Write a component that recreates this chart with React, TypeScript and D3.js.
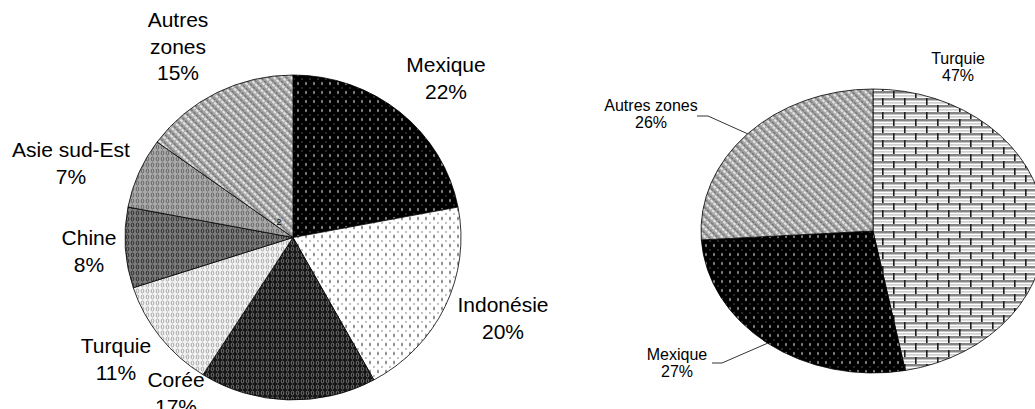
import { useEffect, useRef } from 'react'
import * as d3 from 'd3'

// left pie: répartition (%)
const leftLabels = ['Mexique', 'Indonésie', 'Corée', 'Turquie', 'Chine', 'Asie sud-Est', 'Autres zones']
const leftValues = [22, 20, 17, 11, 8, 7, 15]
// right pie
const rightLabels = ['Turquie', 'Mexique', 'Autres zones']
const rightValues = [47, 27, 26]

const W = 1035
const H = 409

const LEFT = { cx: 293, cy: 237.5, rx: 168, ry: 162.5 }
const RIGHT = { cx: 873, cy: 231, rx: 172, ry: 142 }

const leftFills = ['pBlackDots', 'pWhiteDots', 'pDarkRings', 'pLightRings', 'pMidRings', 'pGreyRings', 'pDiag']
const rightFills = ['pBrick', 'pBlackDots', 'pDiag']

/* label anchors: centre x, baseline of first line */
const leftLabelPos: any = {
    'Mexique': { x: 446, y: 72 },
    'Indonésie': { x: 503, y: 312 },
    'Corée': { x: 176, y: 387 },
    'Turquie': { x: 116, y: 353 },
    'Chine': { x: 89, y: 245 },
    'Asie sud-Est': { x: 71, y: 157 },
    'Autres zones': { x: 178, y: 27, wrap: true },
}
const rightLabelPos: any = {
    'Turquie': { x: 958, y: 64 },
    'Mexique': { x: 677, y: 360, elbow: [712, 722, 363] },
    'Autres zones': { x: 651, y: 111, elbow: [697, 708, 116] },
}

function slicePath(c: any, a0: number, a1: number) {
    const p = (a: number) => [c.cx + c.rx * Math.sin(a), c.cy - c.ry * Math.cos(a)]
    const [x0, y0] = p(a0)
    const [x1, y1] = p(a1)
    const large = a1 - a0 > Math.PI ? 1 : 0
    return `M${c.cx},${c.cy}L${x0},${y0}A${c.rx},${c.ry} 0 ${large} 1 ${x1},${y1}Z`
}

function addPatterns(defs: any) {
    const pat = (id: string, w: number, h: number, tr?: string) => {
        const p = defs.append('pattern')
            .attr('id', id)
            .attr('patternUnits', 'userSpaceOnUse')
            .attr('width', w)
            .attr('height', h)
        if (tr) p.attr('patternTransform', tr)
        return p
    }
    // black with light dots
    let p = pat('pBlackDots', 8, 9)
    p.append('rect').attr('width', 8).attr('height', 9).attr('fill', '#000')
    p.append('ellipse').attr('cx', 2).attr('cy', 2.5).attr('rx', 1).attr('ry', 1.8).attr('fill', '#8a8a8a')
    p.append('circle').attr('cx', 6).attr('cy', 7).attr('r', 0.8).attr('fill', '#5a5a5a')
    // white with grey dots
    p = pat('pWhiteDots', 8, 9)
    p.append('rect').attr('width', 8).attr('height', 9).attr('fill', '#fff')
    p.append('ellipse').attr('cx', 2).attr('cy', 2.5).attr('rx', 1).attr('ry', 2).attr('fill', '#8a8a8a')
    p.append('circle').attr('cx', 6).attr('cy', 7).attr('r', 0.9).attr('fill', '#a5a5a5')
    // ring textures
    const rings = (id: string, bg: string, fg: string) => {
        const q = pat(id, 5, 6)
        q.append('rect').attr('width', 5).attr('height', 6).attr('fill', bg)
        q.append('ellipse').attr('cx', 2.5).attr('cy', 3).attr('rx', 1.3).attr('ry', 2)
            .attr('fill', 'none').attr('stroke', fg).attr('stroke-width', 0.9)
    }
    rings('pDarkRings', '#161616', '#7a7a7a')
    rings('pLightRings', '#f2f2f2', '#a0a0a0')
    rings('pMidRings', '#7c7c7c', '#232323')
    rings('pGreyRings', '#a9a9a9', '#5c5c5c')
    // diagonal weave
    p = pat('pDiag', 6, 4, 'rotate(-45)')
    p.append('rect').attr('width', 6).attr('height', 4).attr('fill', '#a6a6a6')
    p.append('rect').attr('width', 2).attr('height', 3).attr('fill', '#e4e4e4')
    p.append('rect').attr('x', 3).attr('width', 1.2).attr('height', 3).attr('fill', '#6e6e6e')
    // bricks
    p = pat('pBrick', 22, 14)
    p.append('rect').attr('width', 22).attr('height', 14).attr('fill', '#fff')
    p.append('rect').attr('y', 0).attr('width', 22).attr('height', 2.5).attr('fill', '#858585')
    p.append('rect').attr('y', 7).attr('width', 22).attr('height', 2.5).attr('fill', '#858585')
    p.append('rect').attr('y', 4.3).attr('width', 22).attr('height', 1.2).attr('fill', '#bdbdbd')
    p.append('rect').attr('y', 11.3).attr('width', 22).attr('height', 1.2).attr('fill', '#bdbdbd')
    p.append('rect').attr('x', 2).attr('y', 0).attr('width', 1.6).attr('height', 7).attr('fill', '#1e1e1e')
    p.append('rect').attr('x', 13).attr('y', 7).attr('width', 1.6).attr('height', 7).attr('fill', '#1e1e1e')
}

export default function App() {
    const svgRef = useRef<SVGSVGElement | null>(null)

    useEffect(() => {
        document.body.style.margin = '0'
        const svg = d3.select(svgRef.current)
            .attr('width', W)
            .attr('height', H)
        svg.selectAll('*').remove()
        addPatterns(svg.append('defs'))

        const pie = d3.pie<number>().sort(null).value((d) => d)

        /* left pie */
        const leftArcs = pie(leftValues)
        svg.append('g')
            .selectAll('path')
            .data(leftArcs)
            .enter()
            .append('path')
            .attr('d', (d: any) => slicePath(LEFT, d.startAngle, d.endAngle))
            .attr('fill', (d: any, i: number) => `url(#${leftFills[i]})`)
            .attr('stroke', '#000')
            .attr('stroke-width', 0.8)

        svg.append('text')
            .attr('x', 279)
            .attr('y', 225)
            .attr('text-anchor', 'middle')
            .attr('font-family', 'Liberation Sans, Arial, sans-serif')
            .attr('font-size', '9px')
            .text('2')

        leftLabels.forEach((name, i) => {
            const pos = leftLabelPos[name]
            const lines = (pos.wrap ? name.split(' ') : [name]).concat([`${leftValues[i]}%`])
            const t = svg.append('text')
                .attr('text-anchor', 'middle')
                .attr('font-family', 'Liberation Sans, Arial, sans-serif')
                .attr('font-size', '21px')
                .attr('fill', '#000')
            lines.forEach((ln, j) => {
                t.append('tspan').attr('x', pos.x).attr('y', pos.y + j * 26.5).text(ln)
            })
        })

        /* right pie */
        const rightArcs = pie(rightValues)
        svg.append('g')
            .selectAll('path')
            .data(rightArcs)
            .enter()
            .append('path')
            .attr('d', (d: any) => slicePath(RIGHT, d.startAngle, d.endAngle))
            .attr('fill', (d: any, i: number) => `url(#${rightFills[i]})`)
            .attr('stroke', '#000')
            .attr('stroke-width', 0.8)

        rightLabels.forEach((name, i) => {
            const pos = rightLabelPos[name]
            const t = svg.append('text')
                .attr('text-anchor', 'middle')
                .attr('font-family', 'Liberation Sans, Arial, sans-serif')
                .attr('font-size', '16px')
                .attr('fill', '#000')
            t.append('tspan').attr('x', pos.x).attr('y', pos.y).text(name)
            t.append('tspan').attr('x', pos.x).attr('y', pos.y + 16.5).text(`${rightValues[i]}%`)
            if (pos.elbow) {
                const a = rightArcs[i]
                const mid = (a.startAngle + a.endAngle) / 2
                const ex = RIGHT.cx + RIGHT.rx * Math.sin(mid)
                const ey = RIGHT.cy - RIGHT.ry * Math.cos(mid)
                const [x0, x1, y] = pos.elbow
                svg.append('path')
                    .attr('d', `M${x0},${y}L${x1},${y}L${ex},${ey}`)
                    .attr('fill', 'none')
                    .attr('stroke', '#000')
                    .attr('stroke-width', 0.8)
            }
        })
    }, [])

    return <svg ref={svgRef} style={{ display: 'block' }}></svg>
}
